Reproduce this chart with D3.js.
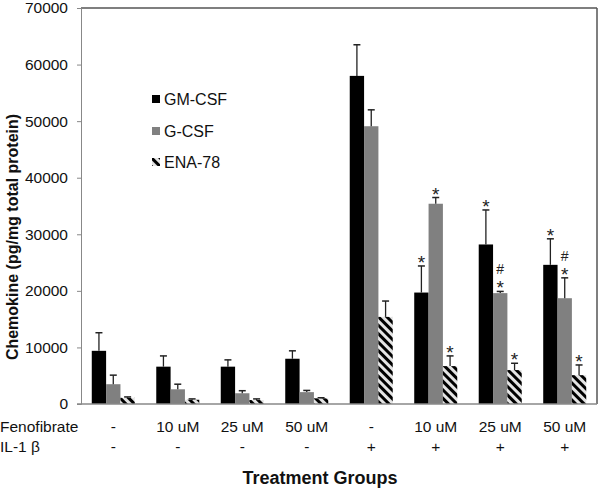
<!DOCTYPE html>
<html>
<head>
<meta charset="utf-8">
<script src="https://cdn.jsdelivr.net/npm/d3@7"></script>
<style>
  body { margin: 0; background: #fff; }
  svg { display: block; font-family: "Liberation Sans", Arial, sans-serif; }
</style>
</head>
<body>
<svg id="chart" width="600" height="490"></svg>
<script>
// ---- data ----
const groups = ["g1", "g2", "g3", "g4", "g5", "g6", "g7", "g8"];
const fenofibrate = ["-", "10 uM", "25 uM", "50 uM", "-", "10 uM", "25 uM", "50 uM"];
const il1b = ["-", "-", "-", "-", "+", "+", "+", "+"];
const seriesNames = ["GM-CSF", "G-CSF", "ENA-78"];
const gmcsf = [9400, 6600, 6600, 8000, 58000, 19700, 28200, 24600];
const gmcsfErr = [3200, 1900, 1200, 1400, 5500, 4700, 6100, 4600];
const gcsf = [3500, 2600, 1900, 2100, 49100, 35400, 19600, 18700];
const gcsfErr = [1600, 900, 450, 300, 2900, 1100, 300, 3600];
const ena78 = [1100, 750, 700, 1000, 15400, 6700, 6000, 5100];
const ena78Err = [150, 150, 200, 100, 2800, 1800, 1200, 1800];
const gmcsfStar = [0, 0, 0, 0, 0, 1, 1, 1];
const gcsfStar = [0, 0, 0, 0, 0, 1, 1, 1];
const gcsfHash = [0, 0, 0, 0, 0, 0, 1, 1];
const ena78Star = [0, 0, 0, 0, 0, 1, 1, 1];
const yTicks = [0, 10000, 20000, 30000, 40000, 50000, 60000, 70000];

const values = [gmcsf, gcsf, ena78];
const errs = [gmcsfErr, gcsfErr, ena78Err];
const stars = [gmcsfStar, gcsfStar, ena78Star];
const hashes = [null, gcsfHash, null];

// ---- layout ----
const svg = d3.select("#chart");
const L = 81, R = 597, T = 8, B = 404;

const defs = svg.append("defs");
const pat = defs.append("pattern")
  .attr("id", "hatch")
  .attr("patternUnits", "userSpaceOnUse")
  .attr("width", 6).attr("height", 6)
  .attr("patternTransform", "rotate(-45)");
pat.append("rect").attr("width", 6).attr("height", 6).attr("fill", "#e4e4e4");
pat.append("rect").attr("x", 0).attr("width", 3).attr("height", 6).attr("fill", "#000");

const fills = ["#000000", "#808080", "url(#hatch)"];

const x0 = d3.scaleBand().domain(groups).range([L, R]).paddingInner(0.333).paddingOuter(0.167);
const x1 = d3.scaleBand().domain(seriesNames).range([0, x0.bandwidth()]);
const y = d3.scaleLinear().domain([0, 70000]).range([B, T]);

// frame top/right
svg.append("line").attr("x1", L).attr("x2", R).attr("y1", T).attr("y2", T).attr("stroke", "#555").attr("stroke-width", 1.5);
svg.append("line").attr("x1", R).attr("x2", R).attr("y1", T).attr("y2", B).attr("stroke", "#555").attr("stroke-width", 1.5);

// y axis
const yAxis = d3.axisLeft(y).tickValues(yTicks).tickSize(4).tickPadding(9).tickFormat(d3.format("d"));
const yg = svg.append("g").attr("transform", `translate(${L},0)`).call(yAxis);
yg.select(".domain").attr("stroke", "#888");
yg.selectAll(".tick line").attr("stroke", "#888");
yg.selectAll(".tick text").attr("font-size", 15.5).attr("fill", "#111").attr("font-family", "Liberation Sans, Arial, sans-serif");

// bars
seriesNames.forEach((s, si) => {
  const g = svg.append("g");
  groups.forEach((grp, gi) => {
    const bx = x0(grp) + x1(s);
    const bw = x1.bandwidth();
    const v = values[si][gi];
    g.append("rect")
      .attr("x", bx).attr("y", y(v))
      .attr("width", bw).attr("height", y(0) - y(v))
      .attr("fill", fills[si]);
    const cx = bx + bw / 2;
    const top = y(v + errs[si][gi]);
    g.append("line").attr("x1", cx).attr("x2", cx).attr("y1", y(v)).attr("y2", top)
      .attr("stroke", "#222").attr("stroke-width", 1.3);
    g.append("line").attr("x1", cx - 3.5).attr("x2", cx + 3.5).attr("y1", top).attr("y2", top)
      .attr("stroke", "#222").attr("stroke-width", 1.5);
    if (stars[si][gi]) {
      g.append("text").attr("x", cx).attr("y", top + 3).attr("text-anchor", "middle")
        .attr("font-size", 19).attr("fill", "#222").text("*");
    }
    if (hashes[si] && hashes[si][gi]) {
      g.append("text").attr("x", cx).attr("y", top - 17).attr("text-anchor", "middle")
        .attr("font-size", 14).attr("fill", "#222").text("#");
    }
  });
});

// x axis line
svg.append("line").attr("x1", L - 4).attr("x2", R).attr("y1", B).attr("y2", B).attr("stroke", "#888").attr("stroke-width", 1.3);

// category rows
const rowG = svg.append("g").attr("font-size", 15.5).attr("fill", "#111");
rowG.append("text").attr("x", 0).attr("y", 432).text("Fenofibrate");
rowG.append("text").attr("x", 0).attr("y", 452).text("IL-1 β");
groups.forEach((grp, gi) => {
  const cx = x0(grp) + x0.bandwidth() / 2;
  rowG.append("text").attr("x", cx).attr("y", 432).attr("text-anchor", "middle").text(fenofibrate[gi]);
  rowG.append("text").attr("x", cx).attr("y", 452).attr("text-anchor", "middle").text(il1b[gi]);
});

// axis titles
svg.append("text").attr("x", 320).attr("y", 484).attr("text-anchor", "middle")
  .attr("font-size", 18).attr("font-weight", "bold").attr("fill", "#111").text("Treatment Groups");
svg.append("text").attr("transform", "translate(18,237) rotate(-90)").attr("text-anchor", "middle")
  .attr("font-size", 16).attr("font-weight", "bold").attr("fill", "#111").text("Chemokine (pg/mg total protein)");

// legend
const legY = [99, 131, 162];
const leg = svg.append("g");
seriesNames.forEach((s, i) => {
  leg.append("rect").attr("x", 152).attr("y", legY[i] - 4).attr("width", 8).attr("height", 8).attr("fill", fills[i]);
  leg.append("text").attr("x", 164).attr("y", legY[i] + 6).attr("font-size", 16).attr("fill", "#111").text(s);
});
</script>
</body>
</html>
